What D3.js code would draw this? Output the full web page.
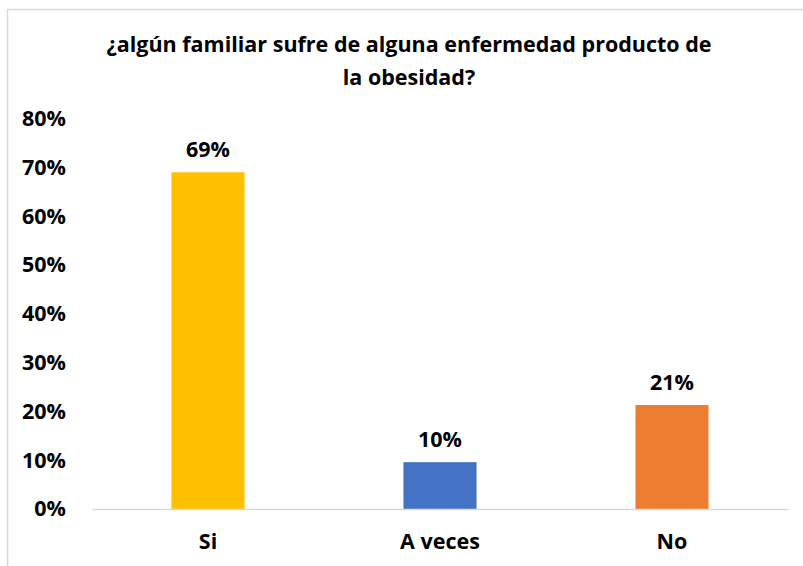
<!DOCTYPE html>
<html>
<head>
<meta charset="utf-8">
<script src="https://cdn.jsdelivr.net/npm/d3@7"></script>
<style>
  body { margin: 0; background: #fff; }
  text { font-family: "Open Sans", Lato, sans-serif; font-weight: bold; fill: #000; }
</style>
</head>
<body>
<div id="chart"></div>
<script>
// data
const categories = ["Si", "A veces", "No"];
const values = [0.69, 0.096, 0.213];
const colors = ["#FFC000", "#4472C4", "#ED7D31"];
const yTicks = [0, 0.1, 0.2, 0.3, 0.4, 0.5, 0.6, 0.7, 0.8];
const titleLines = ["¿algún familiar sufre de alguna enfermedad producto de", "la obesidad?"];

const W = 803, H = 566;
const margin = {top: 118.6, right: 15, bottom: 57, left: 92};
const width = W - margin.left - margin.right;
const height = H - margin.top - margin.bottom;
const fontSize = "21.5px";

const svg = d3.select("#chart").append("svg")
    .attr("width", W)
    .attr("height", H);

// chart frame (only top and left edges are visible)
svg.append("path")
    .attr("d", "M7.5," + H + "V9.5H" + W)
    .attr("fill", "none")
    .attr("stroke", "#d9d9d9")
    .attr("stroke-width", 1.5);

// title
svg.append("g").selectAll("text")
    .data(titleLines)
    .enter().append("text")
    .attr("x", 409)
    .attr("y", (d, i) => 52 + i * 33)
    .attr("text-anchor", "middle")
    .style("font-size", fontSize)
    .text(d => d);

const g = svg.append("g")
    .attr("transform", "translate(" + margin.left + "," + margin.top + ")");

const x = d3.scaleBand()
    .domain(categories)
    .range([0, width])
    .paddingInner(0.685)
    .paddingOuter(0.3425);

const y = d3.scaleLinear()
    .domain([0, 0.8])
    .range([height, 0]);

// y axis labels, no line
const yAxis = g.append("g")
    .call(d3.axisLeft(y).tickValues(yTicks).tickFormat(d3.format(".0%")).tickSize(0).tickPadding(26));
yAxis.select(".domain").remove();
yAxis.selectAll("text")
    .style("font-size", fontSize)
    .attr("font-family", null);

// bars
g.selectAll(".bar")
    .data(values)
    .enter().append("rect")
    .attr("class", "bar")
    .attr("x", (d, i) => x(categories[i]))
    .attr("y", d => y(d))
    .attr("width", x.bandwidth())
    .attr("height", d => height - y(d))
    .attr("fill", (d, i) => colors[i]);

// value labels
g.selectAll(".val")
    .data(values)
    .enter().append("text")
    .attr("class", "val")
    .attr("x", (d, i) => x(categories[i]) + x.bandwidth() / 2)
    .attr("y", d => y(d) - 15)
    .attr("text-anchor", "middle")
    .style("font-size", fontSize)
    .text(d => d3.format(".0%")(d));

// x axis
const xAxis = g.append("g")
    .attr("transform", "translate(0," + height + ")")
    .call(d3.axisBottom(x).tickSize(0).tickPadding(25));
xAxis.select(".domain")
    .attr("stroke", "#d9d9d9")
    .attr("stroke-width", 1.5);
xAxis.selectAll("text")
    .style("font-size", fontSize)
    .attr("font-family", null);
</script>
</body>
</html>
